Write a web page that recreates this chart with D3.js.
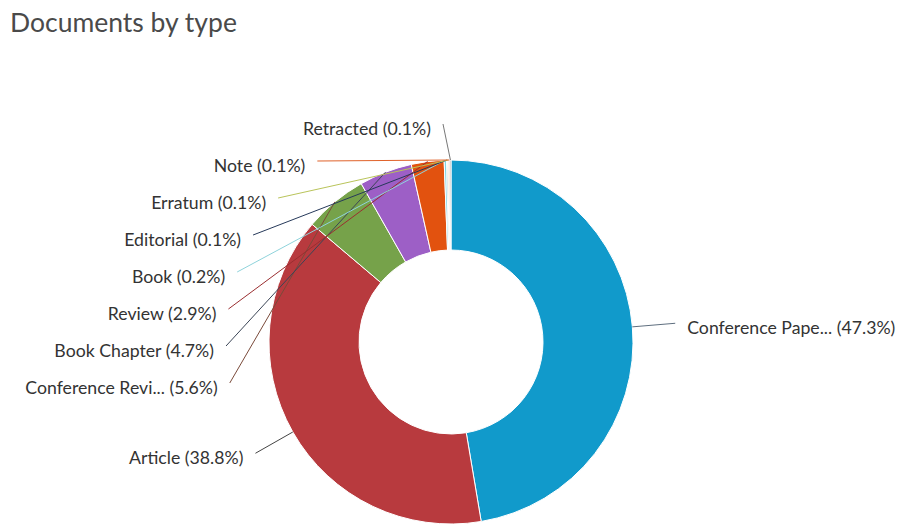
<!DOCTYPE html>
<html>
<head>
<meta charset="utf-8">
<script src="https://cdnjs.cloudflare.com/ajax/libs/d3/7.8.5/d3.min.js"></script>
<style>
  body { margin: 0; background: #fff; }
  text { font-family: Lato, "Open Sans", sans-serif; }
</style>
</head>
<body>
<svg id="chart" width="900" height="527"></svg>
<script>
// document types, as listed in the chart (clockwise from 12 o'clock)
var types = ["Conference Paper", "Article", "Conference Review", "Book Chapter", "Review",
             "Book", "Editorial", "Erratum", "Note", "Retracted"];
var shortNames = ["Conference Pape...", "Article", "Conference Revi...", "Book Chapter", "Review",
                  "Book", "Editorial", "Erratum", "Note", "Retracted"];
var shares = [47.3, 38.8, 5.6, 4.7, 2.9, 0.2, 0.1, 0.1, 0.1, 0.1];

var sliceColors = ["#119acb", "#b83a3e", "#76a24a", "#9d5fc6", "#e2520f",
                   "#7fd6e3", "#2a3f6b", "#c8d35e", "#e8602a", "#8c8c8c"];
var lineColors = ["#5f6f7f", "#444444", "#7a4a3a", "#3b4556", "#9a2e30",
                  "#8fd3db", "#26395a", "#b9c45a", "#e0622a", "#777777"];

var svg = d3.select("#chart");
var cx = 451, cy = 342, outer = 182, inner = 92;
var labelR = 225, textGap = 12, rowH = 37;

svg.append("text")
  .attr("x", 10).attr("y", 32)
  .attr("font-size", 26.5).attr("fill", "#4a4a4a")
  .text("Documents by type");

var data = types.map(function(t, i){ return {type: t, name: shortNames[i], v: shares[i], i: i}; });

var pie = d3.pie().sort(null).value(function(d){ return d.v; });
var arcs = pie(data);
var arc = d3.arc().innerRadius(inner).outerRadius(outer);

var g = svg.append("g").attr("transform", "translate(" + cx + "," + cy + ")");
g.selectAll("path.slice").data(arcs).enter().append("path")
  .attr("class", "slice")
  .attr("d", arc)
  .attr("fill", function(d){ return sliceColors[d.data.i]; })
  .attr("stroke", "#fff")
  .attr("stroke-width", 1);

// label placement: natural spot on a wider circle, then pushed apart on the left side
var labels = arcs.map(function(a){
  var mid = (a.startAngle + a.endAngle) / 2;
  return {
    d: a.data, mid: mid, left: mid > Math.PI,
    y: cy - labelR * Math.cos(mid),
    ax: cx + outer * Math.sin(mid), ay: cy - outer * Math.cos(mid)
  };
});

var leftLabels = labels.filter(function(l){ return l.left; })
  .sort(function(a, b){ return a.y - b.y; });
var topY = cy - outer - 36;
var prevY = topY - rowH;
leftLabels.forEach(function(l){
  l.y = Math.max(l.y, prevY + rowH);
  prevY = l.y;
});

labels.forEach(function(l){
  var dy = l.y - cy;
  var dx = Math.abs(dy) >= outer ? 8 : Math.sqrt(labelR * labelR - dy * dy);
  l.x = l.left ? cx - dx : cx + dx;
});

svg.selectAll("line.connector").data(labels).enter().append("line")
  .attr("class", "connector")
  .attr("x1", function(l){ return l.x; })
  .attr("y1", function(l){ return l.y; })
  .attr("x2", function(l){ return l.ax; })
  .attr("y2", function(l){ return l.ay; })
  .attr("stroke", function(l){ return lineColors[l.d.i]; })
  .attr("stroke-width", 1);

svg.selectAll("text.label").data(labels).enter().append("text")
  .attr("class", "label")
  .attr("x", function(l){ return l.left ? l.x - textGap : l.x + textGap; })
  .attr("y", function(l){ return l.y + 5; })
  .attr("dy", "0.35em")
  .attr("text-anchor", function(l){ return l.left ? "end" : "start"; })
  .attr("font-size", 17.7)
  .attr("fill", "#333")
  .text(function(l){ return l.d.name + " (" + l.d.v + "%)"; });
</script>
</body>
</html>
